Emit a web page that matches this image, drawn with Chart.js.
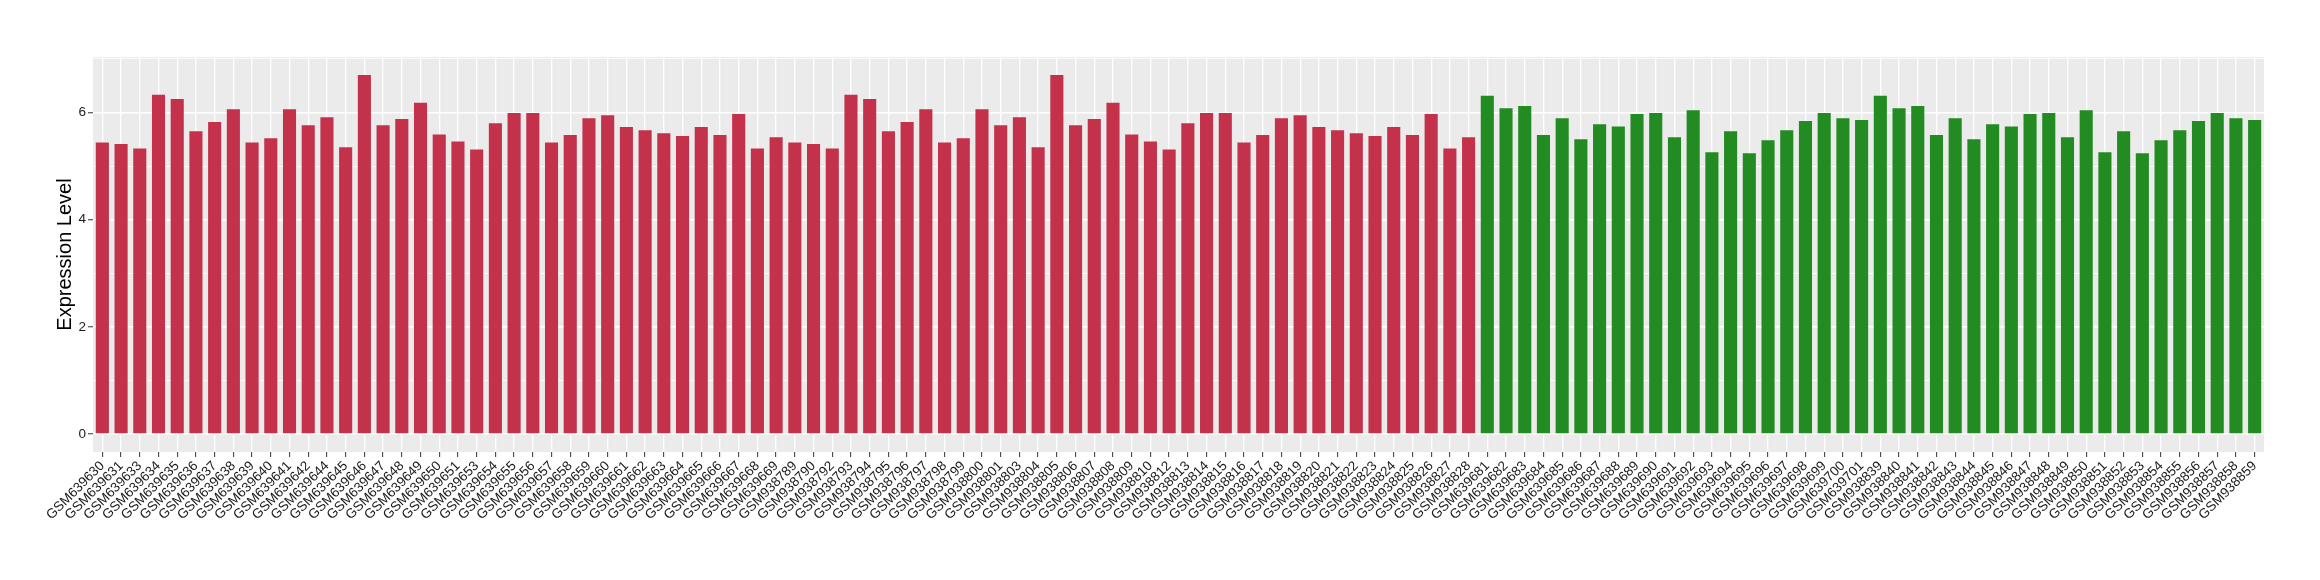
<!DOCTYPE html>
<html>
<head>
  <meta charset="utf-8">
  <title>Expression Level</title>
  <script src="https://cdn.jsdelivr.net/npm/chart.js"></script>
  <style>
    html, body { margin: 0; padding: 0; background: #fff; }
    #wrap { width: 2320px; height: 580px; }
  </style>
</head>
<body>
  <div id="wrap"><canvas id="exprChart" width="2320" height="580"></canvas></div>

  <script>
    // group 1 (red)
    const redSamples = [
      'GSM639630','GSM639631','GSM639633','GSM639634','GSM639635','GSM639636','GSM639637','GSM639638',
      'GSM639639','GSM639640','GSM639641','GSM639642','GSM639644','GSM639645','GSM639646','GSM639647',
      'GSM639648','GSM639649','GSM639650','GSM639651','GSM639653','GSM639654','GSM639655','GSM639656',
      'GSM639657','GSM639658','GSM639659','GSM639660','GSM639661','GSM639662','GSM639663','GSM639664',
      'GSM639665','GSM639666','GSM639667','GSM639668','GSM639669',
      'GSM938789','GSM938790','GSM938792','GSM938793','GSM938794','GSM938795','GSM938796','GSM938797',
      'GSM938798','GSM938799','GSM938800','GSM938801','GSM938803','GSM938804','GSM938805','GSM938806',
      'GSM938807','GSM938808','GSM938809','GSM938810','GSM938812','GSM938813','GSM938814','GSM938815',
      'GSM938816','GSM938817','GSM938818','GSM938819','GSM938820','GSM938821','GSM938822','GSM938823',
      'GSM938824','GSM938825','GSM938826','GSM938827','GSM938828'
    ];
    const redValues = [
      5.44, 5.41, 5.33, 6.33, 6.25, 5.65, 5.82, 6.06, 5.44, 5.52, 6.06, 5.76, 5.91, 5.35, 6.70, 5.76,
      5.88, 6.18, 5.59, 5.46, 5.31, 5.80, 5.99, 5.99, 5.44, 5.58, 5.89, 5.95, 5.73, 5.67, 5.61, 5.56,
      5.73, 5.58, 5.97, 5.33, 5.54,
      5.44, 5.41, 5.33, 6.33, 6.25, 5.65, 5.82, 6.06, 5.44, 5.52, 6.06, 5.76, 5.91, 5.35, 6.70, 5.76,
      5.88, 6.18, 5.59, 5.46, 5.31, 5.80, 5.99, 5.99, 5.44, 5.58, 5.89, 5.95, 5.73, 5.67, 5.61, 5.56,
      5.73, 5.58, 5.97, 5.33, 5.54
    ];

    // group 2 (green)
    const greenSamples = [
      'GSM639681','GSM639682','GSM639683','GSM639684','GSM639685','GSM639686','GSM639687','GSM639688',
      'GSM639689','GSM639690','GSM639691','GSM639692','GSM639693','GSM639694','GSM639695','GSM639696',
      'GSM639697','GSM639698','GSM639699','GSM639700','GSM639701',
      'GSM938839','GSM938840','GSM938841','GSM938842','GSM938843','GSM938844','GSM938845','GSM938846',
      'GSM938847','GSM938848','GSM938849','GSM938850','GSM938851','GSM938852','GSM938853','GSM938854',
      'GSM938855','GSM938856','GSM938857','GSM938858','GSM938859'
    ];
    const greenValues = [
      6.31, 6.08, 6.12, 5.58, 5.89, 5.50, 5.78, 5.74, 5.97, 5.99, 5.54, 6.04, 5.26, 5.65, 5.24, 5.48,
      5.67, 5.84, 5.99, 5.89, 5.86,
      6.31, 6.08, 6.12, 5.58, 5.89, 5.50, 5.78, 5.74, 5.97, 5.99, 5.54, 6.04, 5.26, 5.65, 5.24, 5.48,
      5.67, 5.84, 5.99, 5.89, 5.86
    ];

    const yTicks = [0, 2, 4, 6];
    const redColor = '#C3314A', greenColor = '#228B22';

    const labels = redSamples.concat(greenSamples);
    const values = redValues.concat(greenValues);
    const colors = redSamples.map(()=>redColor).concat(greenSamples.map(()=>greenColor));

    const panelBg = {
      id: 'panelBg',
      beforeDraw(chart) {
        const {ctx, chartArea:a} = chart;
        ctx.save();
        ctx.fillStyle = '#EBEBEB';
        ctx.fillRect(a.left, a.top, a.right - a.left, a.bottom - a.top);
        ctx.restore();
      }
    };

    const font = 'Liberation Sans, Arial, sans-serif';

    new Chart(document.getElementById('exprChart').getContext('2d'), {
      type: 'bar',
      data: {
        labels,
        datasets: [{ data: values, backgroundColor: colors, borderWidth: 0,
                     barPercentage: 0.7, categoryPercentage: 1.0 }]
      },
      options: {
        responsive: false,
        animation: false,
        devicePixelRatio: 1,
        layout: { padding: { left: 53, right: 56, top: 57, bottom: 0 } },
        plugins: { legend: { display: false }, tooltip: { enabled: false } },
        scales: {
          x: {
            offset: true,
            grid: { offset: false, color: '#FFFFFF', lineWidth: 1.3,
                    tickColor: '#333333', tickLength: 5, tickWidth: 1 },
            border: { display: false },
            ticks: { autoSkip: false, maxRotation: 45, minRotation: 45, padding: 1,
                     color: '#1A1A1A', font: { family: font, size: 13.5 } },
            afterFit(s) { s.height = 128; }
          },
          y: {
            min: -0.335, max: 7.035,
            grid: {
              color: '#FFFFFF',
              lineWidth: c => yTicks.includes(c.tick.value) ? 1.5 : 0.8,
              tickColor: c => yTicks.includes(c.tick.value) ? '#333333' : 'rgba(0,0,0,0)',
              tickLength: 5, tickWidth: 1
            },
            border: { display: false },
            ticks: {
              stepSize: 1, includeBounds: false, padding: 2,
              color: '#1A1A1A', font: { family: font, size: 13.5 },
              callback: v => yTicks.includes(v) ? String(v) : ''
            },
            title: { display: true, text: 'Expression Level', color: '#000000',
                     padding: { top: 0, bottom: 0 }, font: { family: font, size: 20 } },
            afterFit(s) { s.width = 40; }
          }
        }
      },
      plugins: [panelBg]
    });
  </script>
</body>
</html>
